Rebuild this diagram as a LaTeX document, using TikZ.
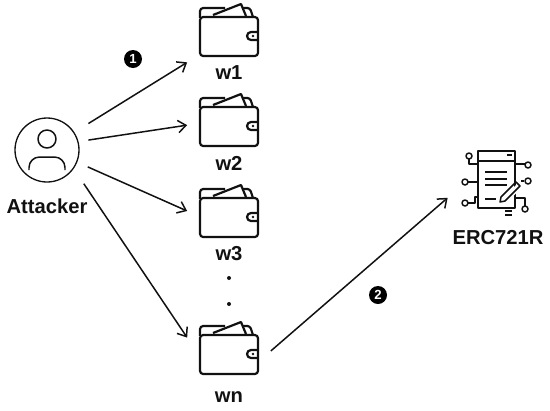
\documentclass[tikz,border=0pt]{standalone}
\usepackage{fontspec}
\setmainfont{Liberation Sans}
\usetikzlibrary{arrows.meta, positioning, calc}
\definecolor{mydark}{RGB}{17,17,17}
\tikzset{
  iconbox/.style={rectangle, minimum width=1.66cm, minimum height=1.28cm, inner sep=0pt},
  ercbox/.style={rectangle, minimum width=1.92cm, minimum height=1.36cm, inner sep=0pt},
  userdisc/.style={circle, draw=mydark, minimum size=1.28cm, inner sep=0pt, line width=0.75pt},
  lbl/.style={font=\bfseries\fontsize{11.5}{13}\selectfont, color=mydark, inner sep=0pt},
  stepdot/.style={circle, fill=black, minimum size=0.36cm, inner sep=0pt, text=white,
    font=\bfseries\fontsize{7.5}{8}\selectfont},
  dotnode/.style={circle, fill=mydark, minimum size=0.08cm, inner sep=0pt},
  arrow/.style={-{Straight Barb[length=4.5pt,width=7pt]}, line width=0.85pt, color=mydark},
  icon/.style={line width=1.25pt, color=mydark, line join=round},
  thinicon/.style={line width=0.85pt, color=mydark, line join=round},
  wallet/.pic={
    % flap and cards
    \draw[icon, rounded corners=1.8pt] (-29,-12) -- (-29,-22) -- (-4,-22);
    \draw[icon] (-16,-15) -- (12,-26) -- (17,-14);
    \draw[icon, rounded corners=1.5pt] (14,-22) -- (21,-22) -- (24,-13);
    % body and clasp
    \draw[icon, rounded corners=1.8pt] (-29,-13) rectangle (29,26);
    \draw[icon] (29,2) -- (22,2) arc (-90:-270:4) -- (29,10);
    \fill[mydark] (24,6) circle (1.3);
  },
  person/.pic={
    \draw[thinicon] (0,-11) circle (9);
    \draw[thinicon, rounded corners=6pt] (-18,20) -- (-18,7) -- (18,7) -- (18,20);
  },
  contract/.pic={
    % sheet
    \draw[thinicon] (-18,-32) rectangle (19,25);
    \draw[thinicon] (-18,-22) -- (19,-22);
    \draw[thinicon] (11,-28) -- (16,-28);
    \foreach \y in {-11,-4,2} {
      \draw[thinicon] (-11,\y) -- (11,\y);
    }
    \draw[thinicon] (-11,16) -- (0,16);
    \foreach \y in {28,32} {
      \draw[line width=0.7pt, color=mydark] (9,\y) -- (16,\y);
    }
    % pen
    \fill[white] (22,0) -- (4,19) -- (8,23) -- (26,4) -- cycle;
    \draw[thinicon] (20,-1) -- (5,14) -- (4,19) -- (9,18) -- (24,3) -- cycle;
    % traces
    \draw[thinicon] (-27,-24) -- (-27,-19) -- (-18,-19);
    \draw[thinicon] (-28,-1) -- (-18,-1);
    \draw[thinicon] (-28,20) -- (-21,20) -- (-21,14) -- (-18,14);
    \draw[thinicon] (19,-19) -- (29,-19);
    \draw[thinicon] (25,-2) -- (28,-2);
    \draw[thinicon] (19,15) -- (29,15) -- (29,23);
    \foreach \a/\b in {-27/-27, -31/-1, -31/20, 32/-18, 32/-2, 29/26} {
      \draw[thinicon] (\a,\b) circle (3);
    }
  }
}
\begin{document}
\begin{tikzpicture}[x=0.02cm, y=-0.02cm]
  \useasboundingbox (0,0) rectangle (550,410);
  % attacker
  \node[userdisc] (attacker) at (47,150) {};
  \pic at (attacker) {person};
  \node[lbl] (attackerlbl) at (47,206) {Attacker};
  % wallets
  \foreach \n/\y in {w1/30, w2/120, w3/211, wn/348} {
    \node[iconbox] (\n) at (229,\y) {};
    \pic at (\n) {wallet};
  }
  \node[lbl] (w1lbl) at (229,73) {w1};
  \node[lbl] (w2lbl) at (229,163) {w2};
  \node[lbl] (w3lbl) at (229,254) {w3};
  \node[lbl] (wnlbl) at (229,397) {wn};
  \node[dotnode] (dota) at (229,278) {};
  \node[dotnode] (dotb) at (229,304) {};
  % contract
  \node[ercbox] (erc) at (496,183) {};
  \pic at (erc) {contract};
  \node[lbl] (erclbl) at (498,238) {ERC721R};
  % numbered steps
  \node[stepdot] (stepa) at (133,59) {1};
  \node[stepdot] (stepb) at (378,295) {2};
  % arrows
  \draw[arrow, shorten <=0.33cm] (attacker.33) -- (w1.south west);
  \draw[arrow, shorten <=0.2cm] (attacker.15) -- (w2.187);
  \draw[arrow, shorten <=0.23cm] (attacker.-22) -- (w3.west);
  \draw[arrow, shorten <=0.36cm] (attacker.-35) -- (wn.166);
  \draw[arrow] (wn.-4) -- (erc.197);
\end{tikzpicture}
\end{document}
